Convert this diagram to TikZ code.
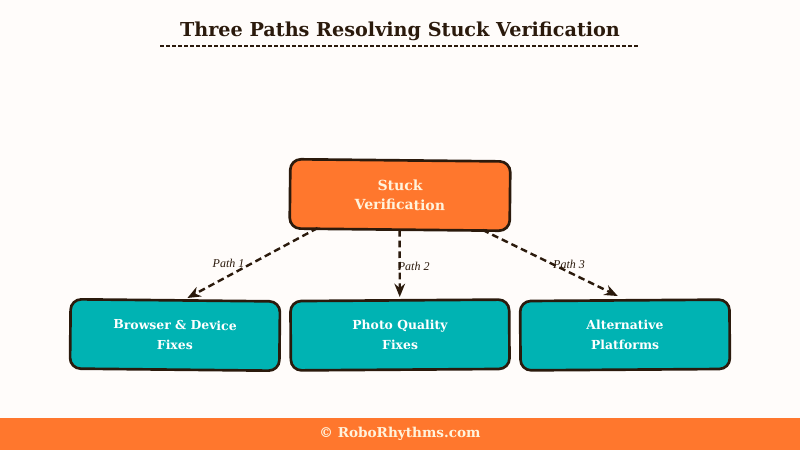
\documentclass[tikz,border=0pt]{standalone}
\usepackage{fontspec}
\setmainfont{DejaVu Serif}
\newfontfamily\labelfont{Liberation Serif}
\usetikzlibrary{arrows.meta,calc}
\definecolor{bg}{HTML}{FFFCFA}
\definecolor{orng}{HTML}{FF772D}
\definecolor{teal1}{HTML}{00B3B3}
\definecolor{ink}{HTML}{2B1A0C}
\definecolor{cream}{HTML}{FFF3DC}
\tikzset{
  topbox/.style={draw=ink, line width=2pt, fill=orng, rounded corners=8pt, minimum width=165pt, minimum height=52pt, align=center, text=cream, font=\bfseries\fontsize{10.5}{14.5}\selectfont},
  leafbox/.style={draw=ink, line width=2pt, fill=teal1, rounded corners=8pt, minimum width=157pt, minimum height=52pt, align=center, text=white, font=\bfseries\fontsize{9.3}{15}\selectfont},
  patharrow/.style={draw=ink, line width=1.8pt, dash pattern=on 5pt off 3pt, -{Stealth[length=10pt,width=8pt]}},
  pathlabel/.style={font=\labelfont\itshape\fontsize{9}{10}\selectfont, text=ink}
}
\begin{document}
\begin{tikzpicture}[x=0.75pt,y=-0.75pt]
\fill[bg] (0,0) rectangle (800,450);
\useasboundingbox (0,0) rectangle (800,450);
% title
\node[font=\bfseries\fontsize{14.4}{17}\selectfont, text=ink] (title) at (400,31) {Three Paths Resolving Stuck Verification};
\draw[ink, line width=0.8pt, dash pattern=on 3pt off 1.5pt] (160,46) coordinate (tl) -- (638,46) coordinate (tr);
% nodes
\node[topbox, rotate=-0.6] (stuck) at (400,195) {Stuck\\Verification};
\node[leafbox, rotate=-0.6] (browser) at (175,335) {Browser \& Device\\Fixes};
\node[leafbox, rotate=0.4, minimum width=164pt] (photo) at (400,335) {Photo Quality\\Fixes};
\node[leafbox, rotate=0.4] (alt) at (625,335) {Alternative\\Platforms};
% arrows
\draw[patharrow] ($(stuck.south)+(-82,-3)$) -- node[pathlabel, pos=0.5, xshift=-18pt] (p1) {Path 1} ($(browser.north)+(12,-1)$);
\draw[patharrow] ($(stuck.south)+(0,-1)$) -- node[pathlabel, pos=0.55, xshift=10.5pt] (p2) {Path 2} ($(photo.north)+(0,-2)$);
\draw[patharrow] ($(stuck.south)+(83,-1)$) -- node[pathlabel, pos=0.62, xshift=2pt, yshift=5pt] (p3) {Path 3} ($(alt.north)+(-7,-3)$);
% footer
\fill[orng] (0,418) rectangle (800,450);
\node[font=\bfseries\fontsize{10.2}{12}\selectfont, text=cream] (footer) at (400,434) {© RoboRhythms.com};
\end{tikzpicture}
\end{document}
